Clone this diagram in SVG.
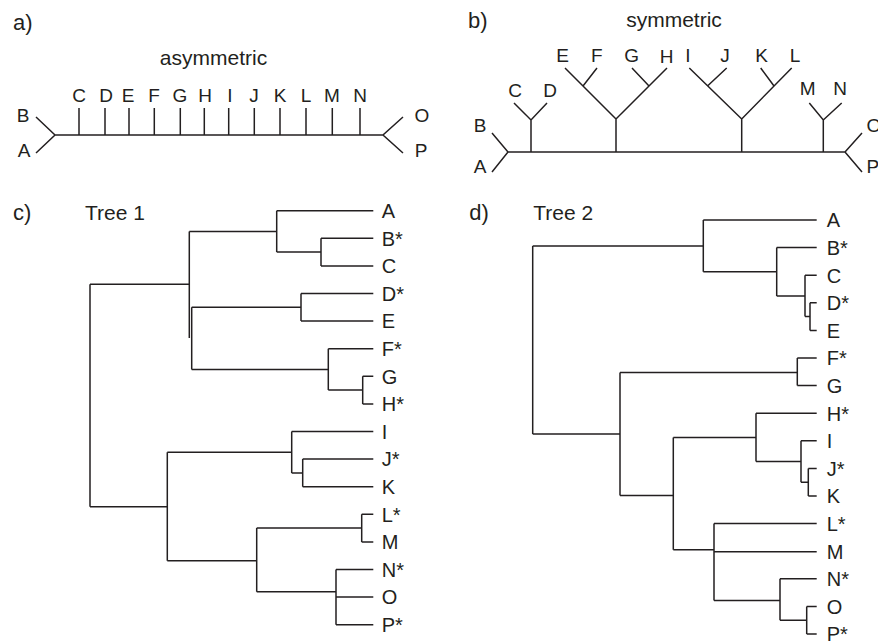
<svg xmlns="http://www.w3.org/2000/svg" width="878" height="642" viewBox="0 0 878 642">
<style>
  .ln{fill:none;stroke:#231f20;stroke-width:1.5;stroke-linecap:butt;stroke-linejoin:miter}
  text{font-family:"Liberation Sans",Arial,Helvetica,sans-serif;fill:#231f20}
  .pl{font-size:22px}
  .ti{font-size:21px}
  .lb{font-size:19px;text-anchor:middle}
  .le{font-size:19px}
  .lf{font-size:20px}
</style>
<rect width="878" height="642" fill="#fff"/>

<!-- Panel a -->
<g id="panel-a">
  <text class="pl" x="13" y="30">a)</text>
  <text class="ti" x="213.5" y="65" text-anchor="middle">asymmetric</text>
  <g id="a-connectors">
    <path class="ln" d="M55,135 H383 M36,117 L55,135 L36,153 M403,117 L383,135 L403,153"/>
    <path class="ln" d="M79,108 V135 M105,108 V135 M129,108 V135 M154.3,108 V135 M180.3,108 V135 M204.3,108 V135 M228.7,108 V135 M254.3,108 V135 M280,108 V135 M306,108 V135 M332.3,108 V135 M360,108 V135"/>
  </g>
  <g id="a-A"><text class="lb" x="24" y="157">A</text></g>
  <g id="a-B"><text class="lb" x="23" y="122">B</text></g>
  <g id="a-C"><text class="lb" x="79" y="102">C</text></g>
  <g id="a-D"><text class="lb" x="106" y="102">D</text></g>
  <g id="a-E"><text class="lb" x="128" y="102">E</text></g>
  <g id="a-F"><text class="lb" x="154" y="102">F</text></g>
  <g id="a-G"><text class="lb" x="180" y="102">G</text></g>
  <g id="a-H"><text class="lb" x="205" y="102">H</text></g>
  <g id="a-I"><text class="lb" x="230" y="102">I</text></g>
  <g id="a-J"><text class="lb" x="254" y="102">J</text></g>
  <g id="a-K"><text class="lb" x="280" y="102">K</text></g>
  <g id="a-L"><text class="lb" x="306" y="102">L</text></g>
  <g id="a-M"><text class="lb" x="332" y="102">M</text></g>
  <g id="a-N"><text class="lb" x="360" y="102">N</text></g>
  <g id="a-O"><text class="lb" x="422" y="122">O</text></g>
  <g id="a-P"><text class="lb" x="421" y="157">P</text></g>
</g>

<!-- Panel b -->
<g id="panel-b">
  <text class="pl" x="468" y="28">b)</text>
  <text class="ti" x="674" y="27" text-anchor="middle">symmetric</text>
  <g id="b-connectors">
    <path class="ln" d="M508,152 H845 M492,133 L508,152 L492,172 M862,133 L845,152 L862,172"/>
    <path class="ln" d="M531,152 V120 M514,103 L531,120 L547,103"/>
    <path class="ln" d="M616,152 V119 M565,68 L616,119 L667,68 M583,86 L597,68 M649,86 L632,68"/>
    <path class="ln" d="M741.7,152 V119 M689.3,68 L741.7,119 L791.7,68 M707.5,86 L726.7,68 M774,86 L760.7,68"/>
    <path class="ln" d="M823.3,152 V120 M809.3,103 L823.3,120 L841.7,103"/>
  </g>
  <g id="b-A"><text class="lb" x="480" y="173">A</text></g>
  <g id="b-B"><text class="lb" x="480" y="132">B</text></g>
  <g id="b-C"><text class="lb" x="515" y="97">C</text></g>
  <g id="b-D"><text class="lb" x="550" y="97">D</text></g>
  <g id="b-E"><text class="lb" x="562.7" y="62">E</text></g>
  <g id="b-F"><text class="lb" x="596.7" y="62">F</text></g>
  <g id="b-G"><text class="lb" x="631.7" y="62">G</text></g>
  <g id="b-H"><text class="lb" x="666.7" y="63">H</text></g>
  <g id="b-I"><text class="lb" x="688" y="62">I</text></g>
  <g id="b-J"><text class="lb" x="725" y="62">J</text></g>
  <g id="b-K"><text class="lb" x="761.7" y="62">K</text></g>
  <g id="b-L"><text class="lb" x="795" y="62">L</text></g>
  <g id="b-M"><text class="lb" x="807.7" y="95">M</text></g>
  <g id="b-N"><text class="lb" x="840" y="95">N</text></g>
  <g id="b-O"><text class="le" x="866.5" y="132">O</text></g>
  <g id="b-P"><text class="le" x="866.5" y="173">P</text></g>
</g>

<!-- Panel c -->
<g id="panel-c">
  <text class="pl" x="13" y="220">c)</text>
  <text class="ti" x="85" y="220">Tree 1</text>
  <g id="c-connectors">
    <path class="ln" d="M276.7,210.7 H373.3 M321,238.3 H373.3 M321,265.9 H373.3 M301,293.5 H373.3 M301,321.1 H373.3 M328.3,348.7 H373.3 M362.7,376.3 H373.3 M362.7,403.9 H373.3"/>
    <path class="ln" d="M291.7,431.5 H373.3 M302.7,459.1 H373.3 M302.7,486.7 H373.3 M361.7,514.3 H373.3 M361.7,541.9 H373.3 M336,569.5 H373.3 M336,597.1 H373.3 M336,624.7 H373.3"/>
    <path class="ln" d="M321,238.3 V265.9 M276.7,252.1 H321 M276.7,210.7 V252.1 M189.3,231.4 H276.7"/>
    <path class="ln" d="M301,293.5 V321.1 M191.7,307.3 H301"/>
    <path class="ln" d="M362.7,376.3 V403.9 M328.3,390.1 H362.7 M328.3,348.7 V390.1 M191.7,369.4 H328.3"/>
    <path class="ln" d="M189.3,231.4 V338 M191.7,307.3 V369.4"/>
    <path class="ln" d="M90,284.3 H189.3 M90,284.3 V506.7 M90,506.7 H167.3"/>
    <path class="ln" d="M167.3,452.2 V560.7 M167.3,452.2 H291.7 M291.7,431.5 V472.9 M291.7,472.9 H302.7 M302.7,459.1 V486.7"/>
    <path class="ln" d="M167.3,560.7 H256.7 M256.7,528.1 V591.7 M256.7,528.1 H361.7 M361.7,514.3 V541.9 M256.7,591.7 H336 M336,569.5 V624.7"/>
  </g>
  <g id="c-A"><text class="lf" x="381.7" y="218">A</text></g>
  <g id="c-B"><text class="lf" x="381.7" y="245.6">B*</text></g>
  <g id="c-C"><text class="lf" x="381.7" y="273.2">C</text></g>
  <g id="c-D"><text class="lf" x="381.7" y="300.8">D*</text></g>
  <g id="c-E"><text class="lf" x="381.7" y="328.4">E</text></g>
  <g id="c-F"><text class="lf" x="381.7" y="356">F*</text></g>
  <g id="c-G"><text class="lf" x="381.7" y="383.6">G</text></g>
  <g id="c-H"><text class="lf" x="381.7" y="411.2">H*</text></g>
  <g id="c-I"><text class="lf" x="381.7" y="438.8">I</text></g>
  <g id="c-J"><text class="lf" x="381.7" y="466.4">J*</text></g>
  <g id="c-K"><text class="lf" x="381.7" y="494">K</text></g>
  <g id="c-L"><text class="lf" x="381.7" y="521.6">L*</text></g>
  <g id="c-M"><text class="lf" x="381.7" y="549.2">M</text></g>
  <g id="c-N"><text class="lf" x="381.7" y="576.8">N*</text></g>
  <g id="c-O"><text class="lf" x="381.7" y="604.4">O</text></g>
  <g id="c-P"><text class="lf" x="381.7" y="632">P*</text></g>
</g>

<!-- Panel d -->
<g id="panel-d">
  <text class="pl" x="469.3" y="220">d)</text>
  <text class="ti" x="533.3" y="220">Tree 2</text>
  <g id="d-connectors">
    <path class="ln" d="M703.3,220 H816.7 M776.7,247.6 H816.7 M805,275.2 H816.7 M810,302.8 H816.7 M810,330.4 H816.7 M797.3,358 H816.7 M797.3,385.6 H816.7 M756,413.2 H816.7"/>
    <path class="ln" d="M801,440.8 H816.7 M808.3,468.4 H816.7 M808.3,496 H816.7 M714,523.6 H816.7 M714,551.7 H816.7 M780,578.8 H816.7 M806.7,606.4 H816.7 M806.7,634 H816.7"/>
    <path class="ln" d="M810,302.8 V330.4 M805,316.6 H810 M805,275.2 V316.6 M776.7,295.9 H805 M776.7,247.6 V295.9 M703.3,271.8 H776.7 M703.3,220 V271.8 M532.7,245.9 H703.3"/>
    <path class="ln" d="M532.7,245.9 V434 M532.7,434 H620"/>
    <path class="ln" d="M797.3,358 V385.6 M620,372.5 H797.3 M620,372.5 V495.5 M620,495.5 H673.3"/>
    <path class="ln" d="M673.3,437.4 V549.8 M673.3,437.4 H756 M756,413.2 V461.5 M756,461.5 H801 M801,440.8 V482.2 M801,482.2 H808.3 M808.3,468.4 V496"/>
    <path class="ln" d="M673.3,549.8 H714 M714,523.6 V600.5 M714,600.5 H780 M780,578.8 V620.2 M780,620.2 H806.7 M806.7,606.4 V634"/>
  </g>
  <g id="d-A"><text class="lf" x="826.7" y="227.3">A</text></g>
  <g id="d-B"><text class="lf" x="826.7" y="254.9">B*</text></g>
  <g id="d-C"><text class="lf" x="826.7" y="282.5">C</text></g>
  <g id="d-D"><text class="lf" x="826.7" y="310.1">D*</text></g>
  <g id="d-E"><text class="lf" x="826.7" y="337.7">E</text></g>
  <g id="d-F"><text class="lf" x="826.7" y="365.3">F*</text></g>
  <g id="d-G"><text class="lf" x="826.7" y="392.9">G</text></g>
  <g id="d-H"><text class="lf" x="826.7" y="420.5">H*</text></g>
  <g id="d-I"><text class="lf" x="826.7" y="448.1">I</text></g>
  <g id="d-J"><text class="lf" x="826.7" y="475.7">J*</text></g>
  <g id="d-K"><text class="lf" x="826.7" y="503.3">K</text></g>
  <g id="d-L"><text class="lf" x="826.7" y="530.9">L*</text></g>
  <g id="d-M"><text class="lf" x="826.7" y="558.5">M</text></g>
  <g id="d-N"><text class="lf" x="826.7" y="586.1">N*</text></g>
  <g id="d-O"><text class="lf" x="826.7" y="613.7">O</text></g>
  <g id="d-P"><text class="lf" x="826.7" y="640.5">P*</text></g>
</g>
</svg>
